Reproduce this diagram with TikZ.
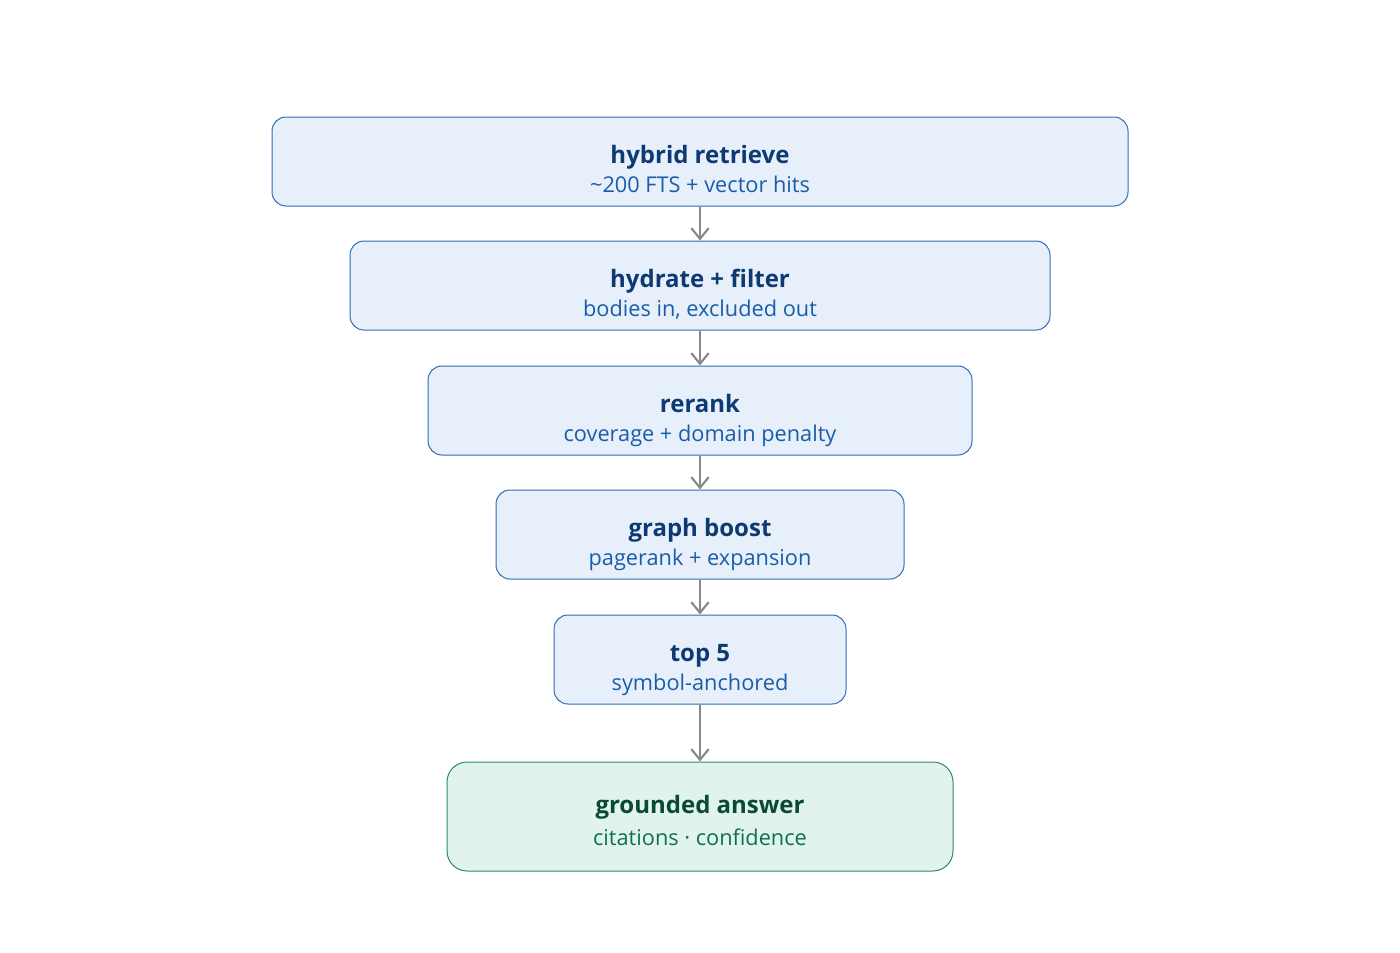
\documentclass[tikz,border=0pt]{standalone}
\usepackage{fontspec}
\setmainfont{Open Sans}
\usetikzlibrary{arrows.meta}
\definecolor{stepfill}{RGB}{231,240,250}
\definecolor{stepline}{RGB}{46,107,184}
\definecolor{steptitle}{RGB}{14,58,115}
\definecolor{stepsub}{RGB}{24,92,170}
\definecolor{goalfill}{RGB}{224,243,236}
\definecolor{goalline}{RGB}{46,139,101}
\definecolor{goaltitle}{RGB}{10,74,52}
\definecolor{goalsub}{RGB}{16,112,80}
\definecolor{flowgray}{RGB}{136,136,136}

\begin{document}
\begin{tikzpicture}[x=0.75pt,y=0.75pt,yscale=-1,xscale=1,
  stage/.style={draw=stepline, fill=stepfill, line width=0.75pt, rounded corners=10.5pt, minimum height=66.75pt, inner sep=0pt},
  goal/.style={draw=goalline, fill=goalfill, line width=0.75pt, rounded corners=15pt, minimum height=81.75pt, minimum width=379.5pt, inner sep=0pt},
  ttl/.style={anchor=base, inner sep=0pt, text=steptitle, font=\fontsize{18}{22}\selectfont\bfseries},
  sub/.style={anchor=base, inner sep=0pt, text=stepsub, font=\fontsize{16.3}{19}\selectfont},
  flow/.style={draw=flowgray, line width=1.6pt, -{Straight Barb[length=8pt, width=13pt, line width=1.6pt]}}]
\useasboundingbox (0,0) rectangle (1400,953);

%Shape: Rounded Rectangles
\node [stage, minimum width=642pt] (b1) at (700,161.5) {};
\node [stage, minimum width=525pt] (b2) at (700,285.5) {};
\node [stage, minimum width=408pt] (b3) at (700,410.5) {};
\node [stage, minimum width=306pt] (b4) at (700,534.5) {};
\node [stage, minimum width=219pt] (b5) at (700,659.5) {};
\node [goal] (b6) at (700,816.5) {};

% Text Node
\node [ttl] (t1) at (700,163) {hybrid retrieve};
\node [sub] (s1) at (700,192) {\textasciitilde200 FTS + vector hits};
% Text Node
\node [ttl] (t2) at (700,287) {hydrate + filter};
\node [sub] (s2) at (700,316) {bodies in, excluded out};
% Text Node
\node [ttl] (t3) at (700,412) {rerank};
\node [sub] (s3) at (700,441) {coverage + domain penalty};
% Text Node
\node [ttl] (t4) at (700,536) {graph boost};
\node [sub] (s4) at (700,565) {pagerank + expansion};
% Text Node
\node [ttl] (t5) at (700,661) {top 5};
\node [sub] (s5) at (700,690) {symbol-anchored};
% Text Node
\node [ttl, text=goaltitle] (t6) at (700,813) {grounded answer};
\node [sub, text=goalsub] (s6) at (700,845) {citations · confidence};

%Straight Lines
\draw [flow] (b1) -- (b2);
\draw [flow] (b2) -- (b3);
\draw [flow] (b3) -- (b4);
\draw [flow] (b4) -- (b5);
\draw [flow] (b5) -- (b6);

\end{tikzpicture}
\end{document}
